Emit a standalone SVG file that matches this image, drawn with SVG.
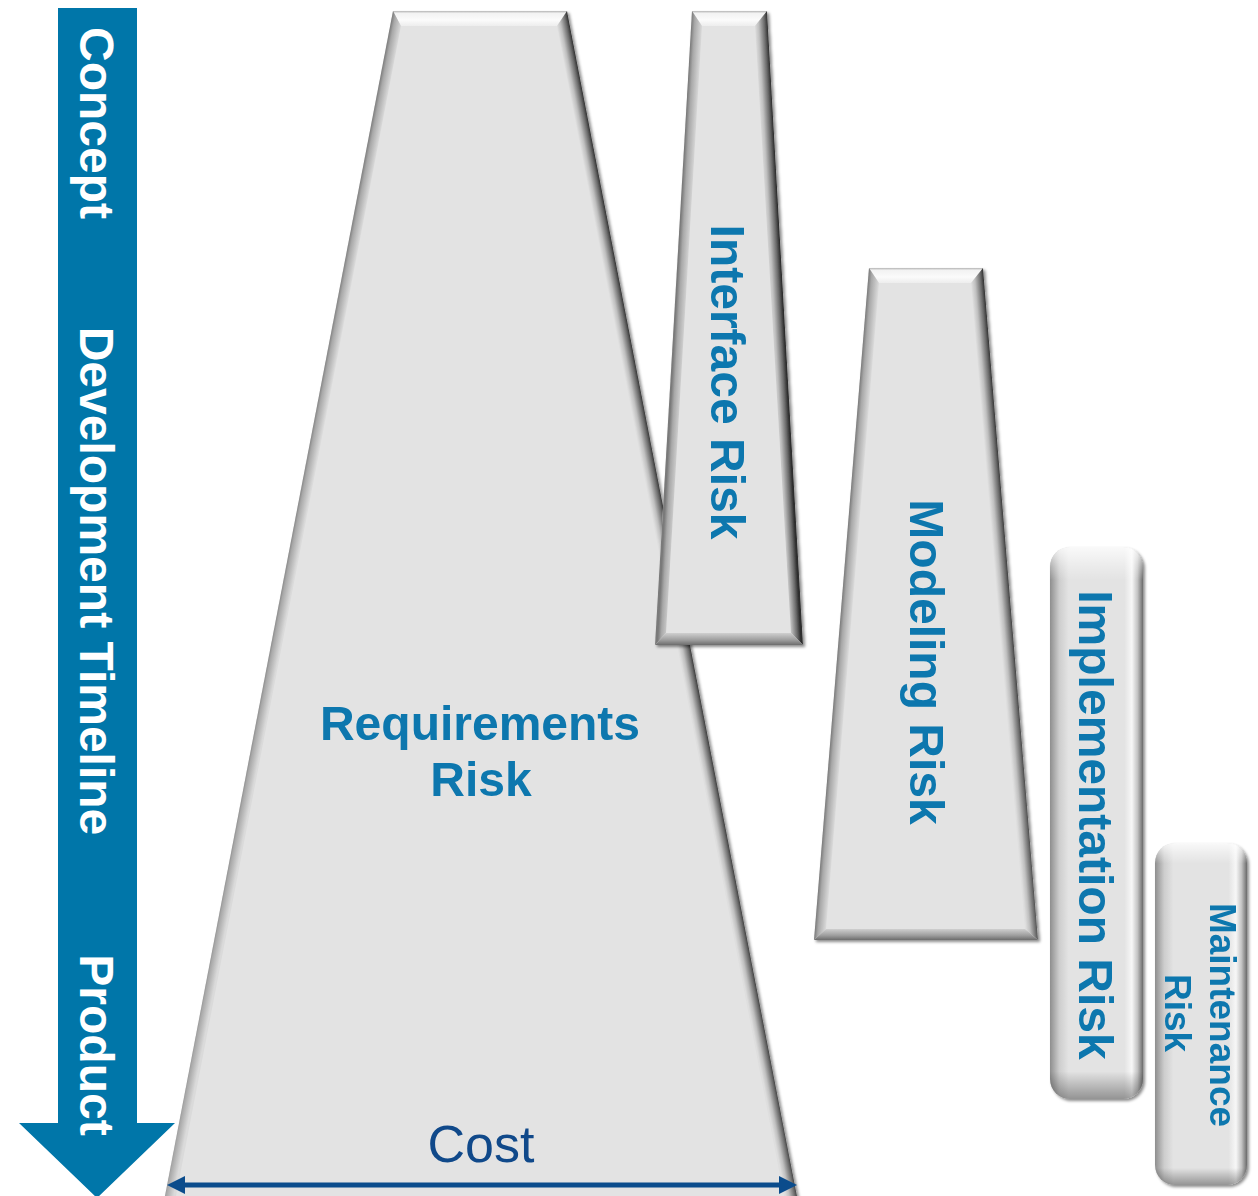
<svg xmlns="http://www.w3.org/2000/svg" width="1258" height="1196" viewBox="0 0 1258 1196">
<style>
.lbl{font-family:"Liberation Sans",Arial,sans-serif;font-weight:bold;font-size:48px;fill:#0b77ae}
.tl{fill:#ffffff}
.sm{font-size:37px}
.cost{font-family:"Liberation Sans",Arial,sans-serif;font-size:52px;fill:#10498a}
.face{fill:#e3e3e3}
.top{fill:url(#gTop)}
.bot{fill:url(#gBot)}
</style>
<defs>
<filter id="sh" x="-10%" y="-5%" width="130%" height="115%">
<feDropShadow dx="2" dy="2" stdDeviation="1.5" flood-color="#000" flood-opacity="0.45"/>
</filter>
<linearGradient id="gTop" x1="0" y1="0" x2="0" y2="1">
<stop offset="0" stop-color="#b4b4b4"/><stop offset="0.15" stop-color="#f2f2f2"/><stop offset="0.6" stop-color="#fbfbfb"/><stop offset="1" stop-color="#ededed"/>
</linearGradient>
<linearGradient id="gBot" x1="0" y1="0" x2="0" y2="1">
<stop offset="0" stop-color="#cfcfcf"/><stop offset="0.6" stop-color="#9c9c9c"/><stop offset="1" stop-color="#6c6c6c"/>
</linearGradient>
<linearGradient id="sideL" x1="0" y1="0" x2="1" y2="0">
<stop offset="0" stop-color="#7a7a7a"/><stop offset="0.3" stop-color="#a8a8a8"/><stop offset="1" stop-color="#dadada"/>
</linearGradient>
<linearGradient id="sideR" x1="0" y1="0" x2="1" y2="0">
<stop offset="0" stop-color="#2e2e2e"/><stop offset="0.25" stop-color="#6a6a6a"/><stop offset="0.7" stop-color="#c0c0c0"/><stop offset="1" stop-color="#dedede"/>
</linearGradient>
<linearGradient id="rL" href="#sideL" gradientUnits="userSpaceOnUse" x1="393" y1="11" x2="403.8" y2="13.1"/>
<linearGradient id="rR" href="#sideR" gradientUnits="userSpaceOnUse" x1="567" y1="11" x2="554.7" y2="13.4"/>
<linearGradient id="iL" href="#sideL" gradientUnits="userSpaceOnUse" x1="692" y1="11" x2="703" y2="11.6"/>
<linearGradient id="iR" href="#sideR" gradientUnits="userSpaceOnUse" x1="767" y1="11" x2="754" y2="11.7"/>
<linearGradient id="mL" href="#sideL" gradientUnits="userSpaceOnUse" x1="869" y1="268" x2="880" y2="268.9"/>
<linearGradient id="mR" href="#sideR" gradientUnits="userSpaceOnUse" x1="983" y1="268" x2="970" y2="269.1"/>
<linearGradient id="pillH" x1="0" y1="0" x2="1" y2="0">
<stop offset="0" stop-color="#8e8e8e"/><stop offset="0.1" stop-color="#cdcdcd"/><stop offset="0.2" stop-color="#e3e3e3"/><stop offset="0.8" stop-color="#e3e3e3"/><stop offset="0.88" stop-color="#f7f7f7"/><stop offset="0.94" stop-color="#c4c4c4"/><stop offset="1" stop-color="#6a6a6a"/>
</linearGradient>
<linearGradient id="pillV" x1="0" y1="0" x2="0" y2="1">
<stop offset="0" stop-color="#ffffff" stop-opacity="0.8"/><stop offset="0.035" stop-color="#ffffff" stop-opacity="0.3"/><stop offset="0.06" stop-color="#ffffff" stop-opacity="0"/><stop offset="0.95" stop-color="#000000" stop-opacity="0"/><stop offset="1" stop-color="#000000" stop-opacity="0.35"/>
</linearGradient>
</defs>

<g id="timeline">
<polygon points="58,8 137,8 137,1123 175,1123 97,1198 19,1123 58,1123" fill="#0076a9"/>
<text class="lbl tl" text-anchor="middle" transform="translate(80,123) rotate(90)">Concept</text>
<text class="lbl tl" text-anchor="middle" transform="translate(80,581) rotate(90)">Development Timeline</text>
<text class="lbl tl" text-anchor="middle" transform="translate(80,1045) rotate(90)">Product</text>
</g>

<g id="requirements" filter="url(#sh)">
<polygon class="face" points="393,11 567,11 797,1196 165,1196"/>
<polygon class="top" points="393,11 567,11 557,26 401,26"/>
<polygon fill="url(#rL)" points="393,11 401,26 176,1196 165,1196"/>
<polygon fill="url(#rR)" points="567,11 797,1196 784,1196 557,26"/>
<text class="lbl" text-anchor="middle" x="480" y="740">Requirements</text>
<text class="lbl" text-anchor="middle" x="481" y="796">Risk</text>
</g>

<g id="interface" filter="url(#sh)">
<polygon class="face" points="692,11 767,11 803,645 655,645"/>
<polygon class="top" points="692,11 767,11 755,26 702,26"/>
<polygon fill="url(#iL)" points="692,11 702,26 666,633 655,645"/>
<polygon fill="url(#iR)" points="767,11 803,645 791,633 755,26"/>
<polygon class="bot" points="666,633 791,633 803,645 655,645"/>
<text class="lbl" text-anchor="middle" transform="translate(711,382) rotate(90)">Interface Risk</text>
</g>

<g id="modeling" filter="url(#sh)">
<polygon class="face" points="869,268 983,268 1038,940 814,940"/>
<polygon class="top" points="869,268 983,268 971,283 879,283"/>
<polygon fill="url(#mL)" points="869,268 879,283 826,929 814,940"/>
<polygon fill="url(#mR)" points="983,268 1038,940 1025,929 971,283"/>
<polygon class="bot" points="826,929 1025,929 1038,940 814,940"/>
<text class="lbl" text-anchor="middle" transform="translate(910,662) rotate(90)">Modeling Risk</text>
</g>

<g id="implementation" filter="url(#sh)">
<rect x="1050" y="547" width="93" height="552" rx="20" fill="url(#pillH)"/>
<rect x="1050" y="547" width="93" height="552" rx="20" fill="url(#pillV)"/>
<text class="lbl" text-anchor="middle" transform="translate(1079,825) rotate(90)">Implementation Risk</text>
</g>

<g id="maintenance" filter="url(#sh)">
<rect x="1155" y="843" width="92" height="342" rx="20" fill="url(#pillH)"/>
<rect x="1155" y="843" width="92" height="342" rx="20" fill="url(#pillV)"/>
<text class="lbl sm" text-anchor="middle" transform="translate(1210,1015) rotate(90)">Maintenance</text>
<text class="lbl sm" text-anchor="middle" transform="translate(1165,1013) rotate(90)">Risk</text>
</g>

<g id="connectors">
<line x1="183" y1="1185" x2="781" y2="1185" stroke="#0b4c8c" stroke-width="5"/>
<polygon points="167,1185 185,1176 185,1194" fill="#0b4c8c"/>
<polygon points="797,1185 779,1176 779,1194" fill="#0b4c8c"/>
<text class="cost" text-anchor="middle" x="481" y="1162">Cost</text>
</g>
</svg>
